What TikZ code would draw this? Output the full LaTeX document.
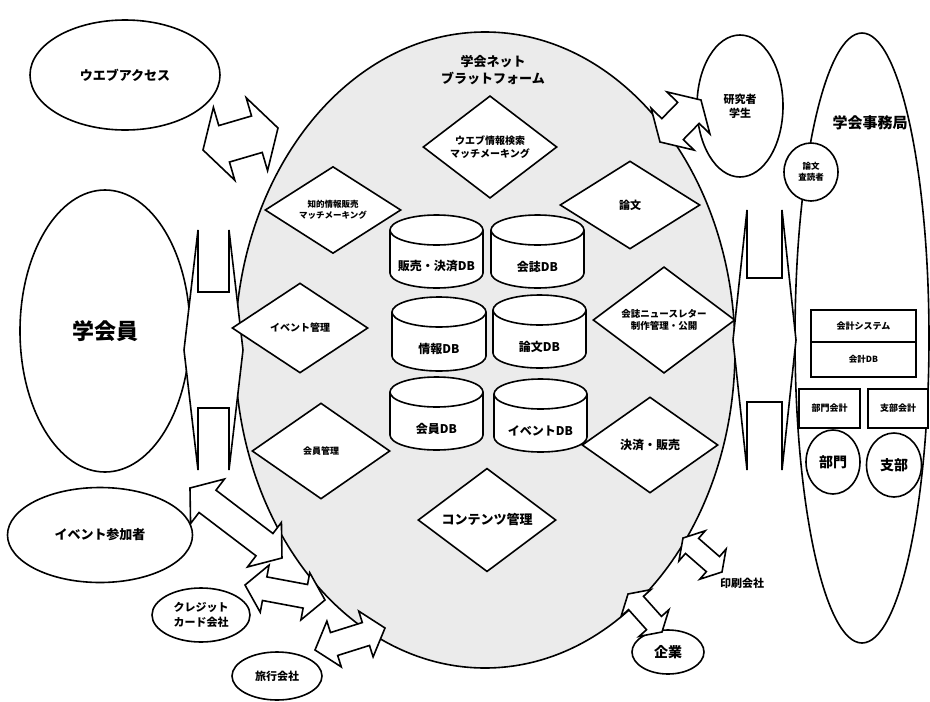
\documentclass[tikz,border=0pt]{standalone}
\usepackage{fontspec}
\setmainfont{Noto Sans CJK JP}
\usetikzlibrary{shapes.geometric}
\newcommand\fs[1]{\bfseries\fontsize{#1}{\fpeval{1.3*#1}}\selectfont}
\newcommand\blockarr[7]{%
  \pgfmathsetmacro\baAng{atan2(-((#4)-(#2)),(#3)-(#1))}%
  \pgfmathsetmacro\baLen{veclen((#3)-(#1),(#4)-(#2))}%
  \begin{scope}[shift={(#1,#2)}, rotate=\baAng]
    \draw[blk] (0pt,0pt) -- (#7pt,#5pt) -- (#7pt,#6pt) -- ({(\baLen-#7)*1pt},#6pt) -- ({(\baLen-#7)*1pt},#5pt) -- ({\baLen*1pt},0pt) -- ({(\baLen-#7)*1pt},-#5pt) -- ({(\baLen-#7)*1pt},-#6pt) -- (#7pt,-#6pt) -- (#7pt,-#5pt) -- cycle;
  \end{scope}}
\newcommand\dbcyl[6]{%
  \pgfmathsetmacro\cyRx{((#4)-(#2))/2}%
  \filldraw[fill=white] (#2,#3+15) -- (#2,#5-15) arc[start angle=180,end angle=0,x radius=\cyRx,y radius=15] -- (#4,#3+15) arc[start angle=0,end angle=-180,x radius=\cyRx,y radius=15] -- cycle;
  \draw (#2,#3+15) arc[start angle=180,end angle=0,x radius=\cyRx,y radius=15];
  \node[font=\fs{12}] (#1) at ({(#2+#4)/2},{(#3+30+#5)/2}) {#6};}
\begin{document}
\begin{tikzpicture}[x=1pt,y=-1pt, line width=1.6pt,
  every node/.style={align=center},
  oval/.style={draw, ellipse, fill=white, inner sep=0pt},
  dia/.style={draw, diamond, fill=white, inner sep=0pt},
  box/.style={draw, rectangle, fill=white, inner sep=0pt},
  blk/.style={draw, fill=white, line join=miter}]
\useasboundingbox[fill=white] (0,0) rectangle (930,702);
% left side actors
\node[oval, minimum width=190, minimum height=110, font=\fs{13}] (web) at (125,75) {ウエブアクセス};
\node[oval, minimum width=170, minimum height=282, font=\fs{22}] (member) at (105,331) {学会員};
\node[oval, minimum width=185, minimum height=95, font=\fs{13}] (evp) at (100,535) {イベント参加者};
\node[oval, minimum width=98, minimum height=54, font=\fs{11}] (credit) at (201,615) {クレジット\\カード会社};
\node[oval, minimum width=90, minimum height=48, font=\fs{11}] (travel) at (277,676) {旅行会社};
\node[oval, minimum width=72, minimum height=44, font=\fs{14}] (corp) at (668,652) {企業};
\node[font=\fs{11}] (print) at (742,583) {印刷会社};
% right side
\node[oval, minimum width=86, minimum height=142, font=\fs{11}] (res) at (740,106) {研究者\\学生};
\node[oval, minimum width=134, minimum height=610] (office) at (862,338) {};
\node[font=\fs{15}] (officet) at (870,123) {学会事務局};
\node[oval, minimum width=54, minimum height=58, font=\fs{8.5}] (rev) at (811,172) {論文\\査読者};
\node[box, minimum width=105, minimum height=32, font=\fs{9}] (acct) at (863.5,326) {会計システム};
\node[box, minimum width=105, minimum height=35, font=\fs{8.5}] (acctdb) at (863.5,359.5) {会計DB};
\node[box, minimum width=61, minimum height=39, font=\fs{9}] (bumonk) at (829.5,408.5) {部門会計};
\node[box, minimum width=60, minimum height=39, font=\fs{9}] (shibuk) at (898,408.5) {支部会計};
\node[oval, minimum width=54, minimum height=64, font=\fs{14}] (bumon) at (833,462) {部門};
\node[oval, minimum width=55, minimum height=64, font=\fs{14}] (shibu) at (894,465) {支部};
% platform
\node[draw, ellipse, fill=gray!16, minimum width=500, minimum height=636, inner sep=0pt] (plat) at (485,350) {};
\node[font=\fs{13}] (platt) at (493,70) {学会ネット\\ブラットフォーム};
% block arrows
\blockarr{203}{150}{278}{128}{38}{19}{22}
\blockarr{184}{350}{243}{350}{120}{58}{14}
\blockarr{190}{488}{282}{558}{28}{14}{22}
\blockarr{245}{585}{325}{600}{24}{12}{20}
\blockarr{315}{650}{385}{628}{24}{12}{20}
\blockarr{660}{142}{701}{100}{30}{15}{18}
\blockarr{733}{340}{796}{340}{130}{62}{14}
\blockarr{683}{538}{722}{572}{20}{10}{12}
\blockarr{628}{594}{662}{632}{20}{10}{12}
% diamonds
\node[dia, minimum width=134, minimum height=96, font=\fs{10}] (dweb) at (490,147) {ウエブ情報検索\\マッチメーキング};
\node[dia, minimum width=136, minimum height=86, font=\fs{8.5}] (dchi) at (333,210) {知的情報販売\\マッチメーキング};
\node[dia, minimum width=140, minimum height=88, font=\fs{11}] (dron) at (630,205) {論文};
\node[dia, minimum width=136, minimum height=90, font=\fs{10}] (devt) at (300,328) {イベント管理};
\node[dia, minimum width=142, minimum height=96, font=\fs{9.5}] (dkai) at (664,320) {会誌ニュースレター\\制作管理・公開};
\node[dia, minimum width=138, minimum height=96, font=\fs{9}] (dmem) at (321,451) {会員管理};
\node[dia, minimum width=136, minimum height=96, font=\fs{12}] (dpay) at (650,445) {決済・販売};
\node[dia, minimum width=138, minimum height=96, font=\fs{13}] (dcon) at (487,520) {コンテンツ管理};
% databases
\dbcyl{db1}{390}{215}{483}{288}{販売・決済DB}
\dbcyl{db2}{491}{215}{584}{288}{会誌DB}
\dbcyl{db3}{392}{297}{486}{371}{情報DB}
\dbcyl{db4}{493}{295}{586}{368}{論文DB}
\dbcyl{db5}{390}{377}{483}{450}{会員DB}
\dbcyl{db6}{494}{379}{587}{452}{イベントDB}
\end{tikzpicture}
\end{document}
